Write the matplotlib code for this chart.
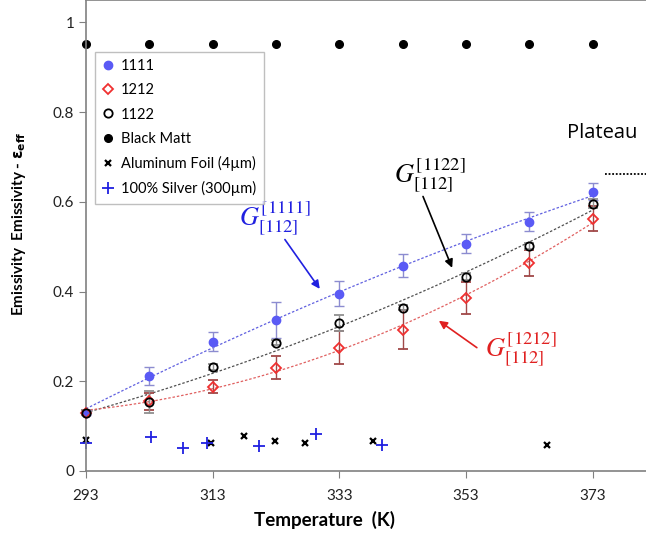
import numpy as np
import matplotlib
matplotlib.use("Agg")
import matplotlib.pyplot as plt
from matplotlib.lines import Line2D

plt.rcParams["font.family"] = ["Lato", "DejaVu Sans"]

"""
__Data__
"""
temps = [293, 303, 313, 323, 333, 343, 353, 363, 373]

e_1111 = [0.130, 0.212, 0.288, 0.337, 0.395, 0.458, 0.507, 0.556, 0.623]
err_1111 = [0.005, 0.020, 0.021, 0.040, 0.028, 0.026, 0.022, 0.021, 0.019]

e_1212 = [0.130, 0.155, 0.188, 0.230, 0.275, 0.315, 0.386, 0.464, 0.562]
err_1212 = [0.005, 0.018, 0.014, 0.026, 0.036, 0.044, 0.036, 0.029, 0.028]

e_1122 = [0.130, 0.154, 0.232, 0.286, 0.330, 0.364, 0.433, 0.502, 0.596]
err_1122 = [0.005, 0.025, 0.006, 0.006, 0.017, 0.006, 0.008, 0.006, 0.010]

black_matt = [0.951, 0.951, 0.951, 0.951, 0.951, 0.951, 0.951, 0.951, 0.951]

alu_t = [293.0, 312.8, 318.0, 322.9, 327.6, 338.3, 365.8]
alu_e = [0.069, 0.063, 0.078, 0.067, 0.063, 0.067, 0.058]

silver_t = [293.0, 303.3, 308.3, 312.1, 320.3, 329.3, 339.7]
silver_e = [0.062, 0.076, 0.051, 0.063, 0.056, 0.083, 0.058]

plateau_level = 0.661

blue = "#5a5af5"
red = "#f03030"

"""
__Plot__
"""
fig = plt.figure(figsize=(6.46, 5.42), dpi=100)
ax = fig.add_axes([86 / 646, 1 - 471 / 542, 560 / 646, 471 / 542])

t_fit = np.linspace(293, 373, 100)
for vals, col in [(e_1111, "#6060e0"), (e_1122, "#505050"), (e_1212, "#e06060")]:
    coef = np.polyfit(temps, vals, 2)
    ax.plot(t_fit, np.polyval(coef, t_fit), linestyle=(0, (2, 1.5)), color=col, lw=0.9)

ax.errorbar(temps, e_1111, yerr=err_1111, fmt="o", color=blue, ms=6, mec=blue,
            ecolor="#8c8cd0", elinewidth=1, capsize=3.5, clip_on=False, zorder=4)
ax.errorbar(temps, e_1212, yerr=err_1212, fmt="D", mfc="none", mec=red, mew=1.3, ms=5.5,
            ecolor="#a04848", elinewidth=1, capsize=3.5, clip_on=False, zorder=4)
ax.errorbar(temps, e_1122, yerr=err_1122, fmt="o", mfc="none", mec="black", mew=1.3, ms=6,
            ecolor="#909090", elinewidth=1, capsize=3.5, clip_on=False, zorder=4)
ax.plot(temps, black_matt, "o", color="black", ms=5.5, linestyle="", clip_on=False)
ax.plot(alu_t, alu_e, "x", color="black", ms=5, mew=1.6, linestyle="", clip_on=False)
ax.plot(silver_t, silver_e, "+", color="#2020e0", ms=8, mew=1.3, linestyle="", clip_on=False)

# plateau marker
ax.plot([375, 382], [plateau_level, plateau_level], linestyle=(0, (1, 1)), color="black", lw=1.3)
ax.text(374.5, 0.754, "Plateau", fontsize=14.5, ha="center", va="center", family=["Open Sans", "DejaVu Sans"])

# curve labels with arrows
labels = [
    (r"$G^{[1111]}_{[112]}$", (322.8, 0.565), (324.4, 0.516), (329.9, 0.406), "#2020e0"),
    (r"$G^{[1122]}_{[112]}$", (347.3, 0.66), (346.2, 0.612), (350.8, 0.453), "black"),
    (r"$G^{[1212]}_{[112]}$", (361.6, 0.272), (354.7, 0.275), (348.7, 0.335), "#e02020"),
]
for txt, pos, tail, tip, col in labels:
    ax.text(pos[0], pos[1], txt, color=col, fontsize=19, ha="center", va="center", math_fontfamily="stix")
    ax.annotate("", xy=tip, xytext=tail,
                arrowprops=dict(arrowstyle="-|>", color=col, lw=1.2, shrinkA=0, shrinkB=0, mutation_scale=12))

ax.set_xlim(293, 381.4)
ax.set_ylim(0, 1.05)
ax.set_xticks([293, 313, 333, 353, 373])
ax.set_yticks([0, 0.2, 0.4, 0.6, 0.8, 1.0])
ax.set_yticklabels(["0", "0.2", "0.4", "0.6", "0.8", "1"])

for side in ["top", "left", "bottom"]:
    ax.spines[side].set_color("#808080")
    ax.spines[side].set_linewidth(1.2)
ax.spines["right"].set_visible(False)
ax.tick_params(direction="out", length=5, color="#808080", labelsize=11, labelcolor="#222222")
ax.tick_params(axis="x", pad=8)

ax.set_xlabel("Temperature  (K)", fontsize=13.5, fontweight="bold")
ax.xaxis.set_label_coords((324 - 86) / 560, -0.085)
ax.set_ylabel(r"Emissivity  Emissivity - $\mathbf{\varepsilon_{eff}}$", fontsize=11,
              fontweight="bold", math_fontfamily="dejavusans")
ax.yaxis.set_label_coords(-0.104, 0.524)

handles = [
    Line2D([], [], marker="o", color=blue, ms=6, linestyle=""),
    Line2D([], [], marker="D", mfc="none", mec=red, mew=1.3, ms=5.5, linestyle=""),
    Line2D([], [], marker="o", mfc="none", mec="black", mew=1.3, ms=6, linestyle=""),
    Line2D([], [], marker="o", color="black", ms=5.5, linestyle=""),
    Line2D([], [], marker="x", color="black", ms=5, mew=1.6, linestyle=""),
    Line2D([], [], marker="+", color="#2020e0", ms=8, mew=1.3, linestyle=""),
]
names = ["1111", "1212", "1122", "Black Matt", "Aluminum Foil (4µm)", "100% Silver (300µm)"]
leg = ax.legend(handles, names, loc="upper left", bbox_to_anchor=(0.016, 0.89), fontsize=10.5,
                frameon=True, fancybox=False, edgecolor="#b0b0b0", handlelength=0.8,
                handletextpad=0.5, borderpad=0.5, labelspacing=0.7, borderaxespad=0)
leg.get_frame().set_linewidth(1.0)

fig.savefig("out.png", dpi=100)
